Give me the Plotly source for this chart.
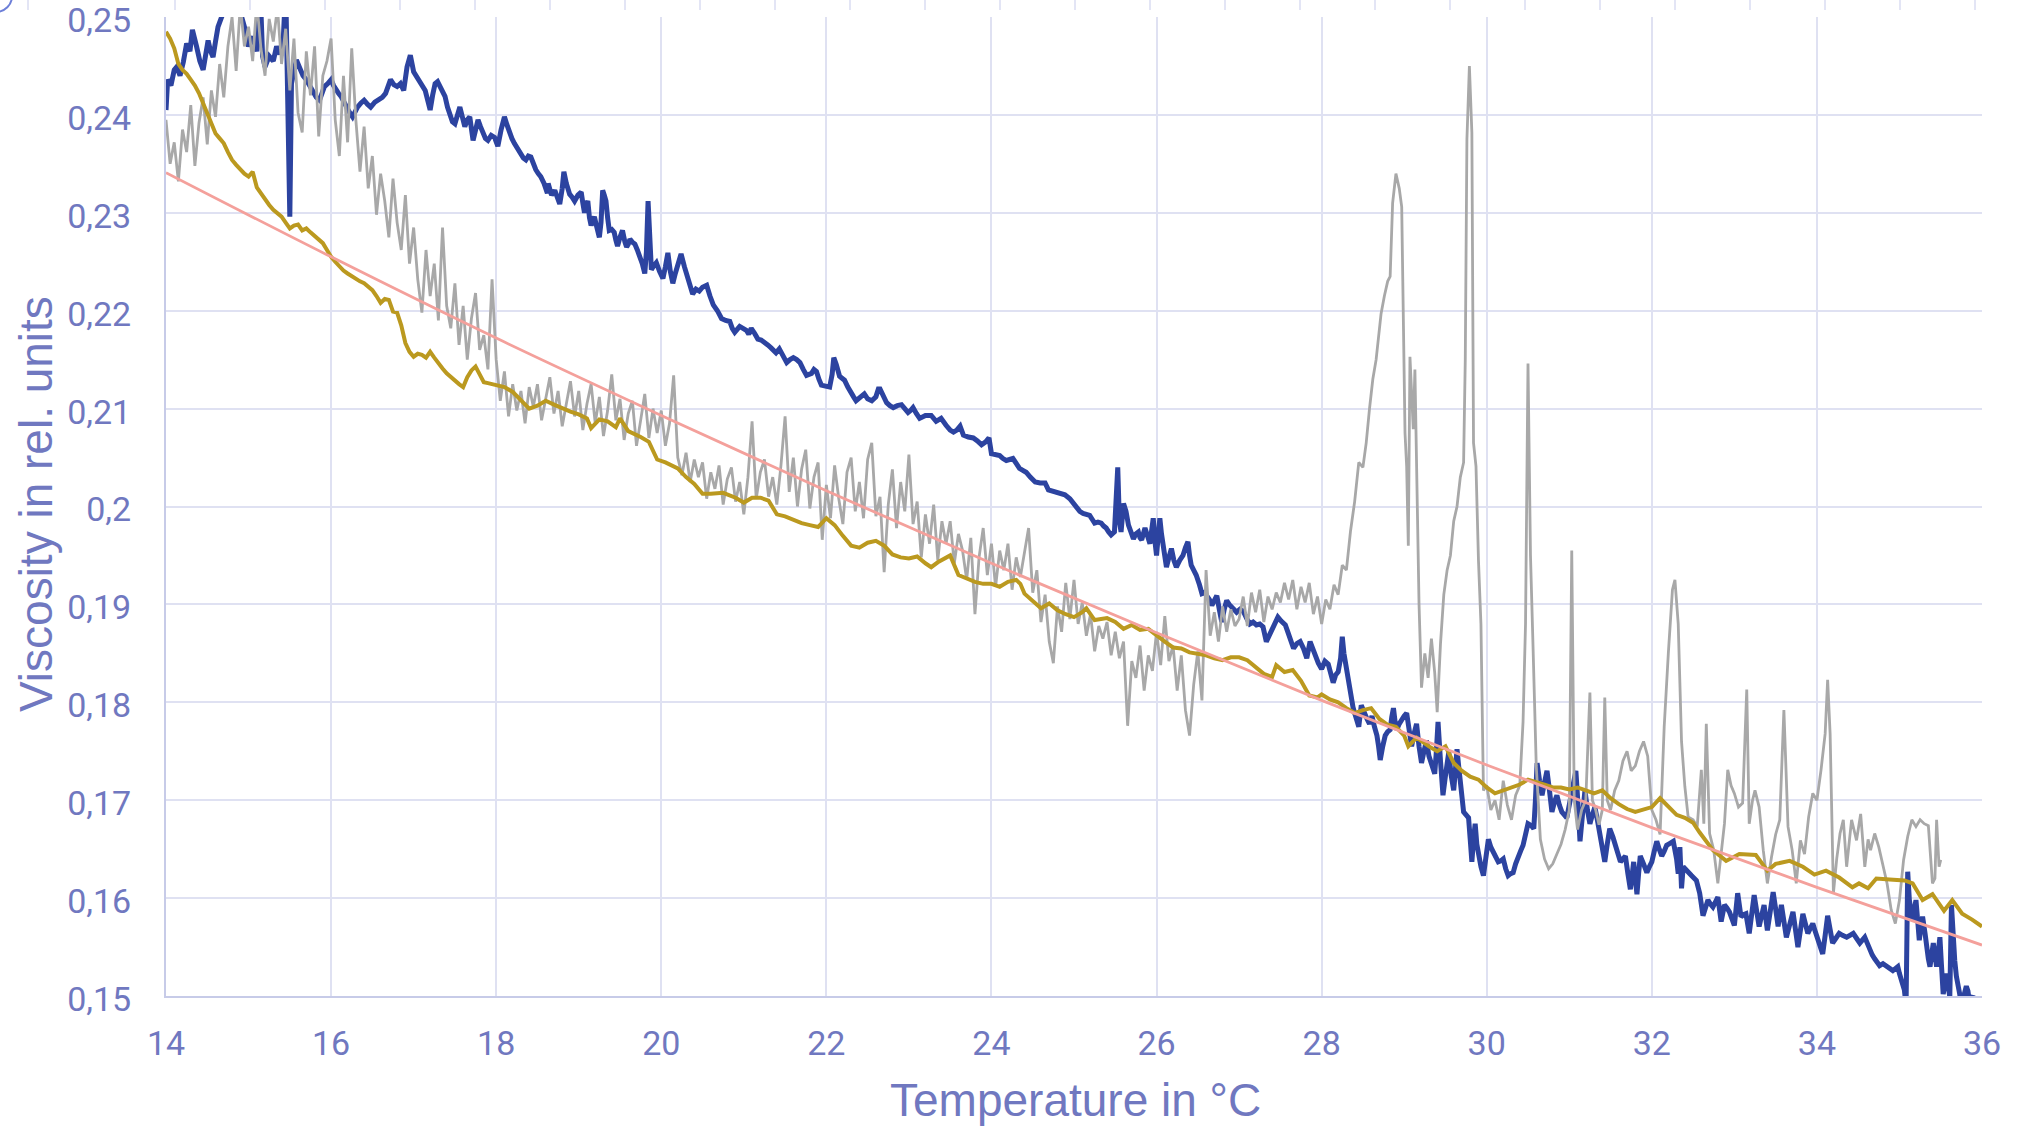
import plotly.graph_objects as go

# ---------------- data ----------------
x_ticks = [14, 16, 18, 20, 22, 24, 26, 28, 30, 32, 34, 36]
y_tickvals = [0.15, 0.16, 0.17, 0.18, 0.19, 0.20, 0.21, 0.22, 0.23, 0.24, 0.25]
y_ticktext = ["0,15", "0,16", "0,17", "0,18", "0,19", "0,2", "0,21", "0,22", "0,23", "0,24", "0,25"]

# trend line (pink), values read at each x tick
trend_temp = [14, 16, 18, 20, 22, 24, 26, 28, 30, 32, 34, 36]
trend_visc = [0.2341, 0.2255, 0.2172, 0.2093, 0.2016, 0.1942, 0.1871, 0.1802, 0.1736, 0.1672, 0.1611, 0.1552]

# gray series, part A: one reading every 0.05 degC from 14.00 to 27.95
gray_a_visc = [
    0.2395, 0.2350, 0.2372, 0.2332, 0.2385, 0.2362, 0.2410, 0.2348, 0.2392, 0.2418,
    0.2370, 0.2425, 0.2398, 0.2452, 0.2418, 0.2470, 0.2500, 0.2445, 0.2512, 0.2470,
    0.2490, 0.2455, 0.2515, 0.2468, 0.2440, 0.2498, 0.2475, 0.2510, 0.2452, 0.2488,
    0.2425, 0.2478, 0.2402, 0.2382, 0.2465, 0.2420, 0.2470, 0.2378, 0.2440, 0.2455,
    0.2478, 0.2395, 0.2358, 0.2440, 0.2372, 0.2468, 0.2395, 0.2342, 0.2388, 0.2325,
    0.2358, 0.2298, 0.2340, 0.2312, 0.2275, 0.2335, 0.2290, 0.2262, 0.2318, 0.2248,
    0.2285, 0.2232, 0.2198, 0.2262, 0.2215, 0.2248, 0.2190, 0.2285, 0.2205, 0.2182,
    0.2228, 0.2165, 0.2205, 0.2150, 0.2192, 0.2218, 0.2160, 0.2175, 0.2140, 0.2232,
    0.2150, 0.2108, 0.2138, 0.2092, 0.2125, 0.2098, 0.2118, 0.2085, 0.2122, 0.2102,
    0.2125, 0.2088, 0.2110, 0.2132, 0.2095, 0.2118, 0.2082, 0.2105, 0.2128, 0.2092,
    0.2118, 0.2078, 0.2105, 0.2125, 0.2085, 0.2112, 0.2072, 0.2098, 0.2135, 0.2088,
    0.2110, 0.2068, 0.2095, 0.2108, 0.2062, 0.2088, 0.2115, 0.2070, 0.2100, 0.2075,
    0.2098, 0.2062, 0.2085, 0.2134, 0.2050, 0.2032, 0.2055, 0.2025, 0.2048, 0.2030,
    0.2045, 0.2008, 0.2035, 0.2018, 0.2042, 0.2002, 0.2028, 0.2040, 0.2005, 0.2025,
    0.1992, 0.2030, 0.2087, 0.2008, 0.2035, 0.2048, 0.2010, 0.2030, 0.2002, 0.2042,
    0.2092, 0.2015, 0.2050, 0.2000, 0.2038, 0.2058, 0.1998, 0.2030, 0.2045, 0.1966,
    0.2022, 0.1988, 0.2042, 0.2008, 0.1982, 0.2035, 0.2050, 0.1995, 0.2025, 0.1988,
    0.2048, 0.2065, 0.1990, 0.2010, 0.1933, 0.2002, 0.2038, 0.1978, 0.2025, 0.1995,
    0.2053, 0.1982, 0.2005, 0.1948, 0.1992, 0.1962, 0.2002, 0.1945, 0.1985, 0.1962,
    0.1985, 0.1942, 0.1972, 0.1955, 0.1925, 0.1968, 0.1890, 0.1948, 0.1978, 0.1930,
    0.1962, 0.1918, 0.1955, 0.1935, 0.1962, 0.1915, 0.1948, 0.1928, 0.1952, 0.1978,
    0.1912, 0.1935, 0.1882, 0.1910, 0.1862, 0.1840, 0.1898, 0.1872, 0.1922, 0.1885,
    0.1925, 0.1880, 0.1902, 0.1868, 0.1890, 0.1852, 0.1878, 0.1865, 0.1882, 0.1848,
    0.1872, 0.1845, 0.1862, 0.1776, 0.1842, 0.1825, 0.1858, 0.1812, 0.1848, 0.1832,
    0.1872, 0.1838, 0.1888, 0.1842, 0.1858, 0.1812, 0.1848, 0.1792, 0.1766, 0.1818,
    0.1852, 0.1802, 0.1935, 0.1868, 0.1892, 0.1862, 0.1898, 0.1872, 0.1895, 0.1878,
    0.1885, 0.1908, 0.1878, 0.1912, 0.1892, 0.1915, 0.1882, 0.1908, 0.1895, 0.1912,
    0.1902, 0.1922, 0.1905, 0.1925, 0.1895, 0.1918, 0.1902, 0.1922, 0.1890, 0.1908,
]

# gray series, part B: irregular readings 28.0 .. 35.5
gray_b_temp = [
    28.00, 28.05, 28.10, 28.15, 28.20, 28.25, 28.30, 28.35, 28.40, 28.45, 28.50, 28.54, 28.58, 28.62, 28.66,
    28.72, 28.76, 28.80, 28.83, 28.86, 28.90, 28.94, 28.97, 28.99, 29.01, 29.03, 29.05, 29.07, 29.09, 29.11,
    29.13, 29.15, 29.18, 29.21, 29.25, 29.29, 29.33, 29.37, 29.40, 29.44, 29.48, 29.52, 29.56, 29.60, 29.64,
    29.68, 29.72, 29.74, 29.76, 29.79, 29.82, 29.84, 29.87, 29.90, 29.93, 29.96, 30.00, 30.05, 30.10, 30.15,
    30.20, 30.25, 30.30, 30.35, 30.40, 30.44, 30.47, 30.50, 30.53, 30.56, 30.60, 30.65, 30.70, 30.75, 30.80,
    30.85, 30.90, 30.95, 31.00, 31.03, 31.06, 31.10, 31.15, 31.20, 31.25, 31.28, 31.32, 31.36, 31.40, 31.43,
    31.46, 31.50, 31.55, 31.60, 31.65, 31.70, 31.75, 31.80, 31.85, 31.90, 31.95, 32.00, 32.05, 32.10, 32.15,
    32.20, 32.25, 32.28, 32.32, 32.36, 32.40, 32.44, 32.50, 32.55, 32.60, 32.63, 32.66, 32.70, 32.75, 32.80,
    32.85, 32.88, 32.92, 32.96, 33.00, 33.05, 33.10, 33.15, 33.18, 33.22, 33.25, 33.30, 33.35, 33.40, 33.45,
    33.50, 33.55, 33.60, 33.65, 33.70, 33.75, 33.80, 33.85, 33.90, 33.95, 34.00, 34.05, 34.10, 34.13, 34.16,
    34.20, 34.24, 34.28, 34.32, 34.36, 34.42, 34.48, 34.53, 34.58, 34.62, 34.65, 34.70, 34.75, 34.80, 34.85,
    34.90, 34.95, 35.00, 35.05, 35.10, 35.15, 35.20, 35.25, 35.30, 35.35, 35.40, 35.43, 35.45, 35.48, 35.50,
]
gray_b_visc = [
    0.1880, 0.1905, 0.1895, 0.1920, 0.1910, 0.1940, 0.1935, 0.1975, 0.2005, 0.2045, 0.2040, 0.2065, 0.2100, 0.2130, 0.2150,
    0.2197, 0.2215, 0.2230, 0.2235, 0.2310, 0.2340, 0.2325, 0.2306, 0.2211, 0.2075, 0.2041, 0.1960, 0.2153, 0.2120, 0.2079,
    0.2140, 0.2038, 0.1900, 0.1815, 0.1850, 0.1825, 0.1865, 0.1830, 0.1790, 0.1860, 0.1910, 0.1935, 0.1950, 0.1985, 0.2000,
    0.2030, 0.2045, 0.2150, 0.2375, 0.2450, 0.2382, 0.2065, 0.2041, 0.1945, 0.1880, 0.1710, 0.1715, 0.1690, 0.1700, 0.1680,
    0.1720, 0.1695, 0.1680, 0.1705, 0.1715, 0.1780, 0.1880, 0.2146, 0.1950, 0.1860, 0.1735, 0.1660, 0.1640, 0.1630, 0.1635,
    0.1645, 0.1655, 0.1670, 0.1690, 0.1955, 0.1700, 0.1670, 0.1690, 0.1700, 0.1810, 0.1700, 0.1690, 0.1675, 0.1690, 0.1805,
    0.1700, 0.1690, 0.1710, 0.1720, 0.1740, 0.1750, 0.1730, 0.1735, 0.1750, 0.1760, 0.1745, 0.1690, 0.1680, 0.1665, 0.1775,
    0.1850, 0.1915, 0.1925, 0.1880, 0.1760, 0.1714, 0.1683, 0.1680, 0.1673, 0.1731, 0.1676, 0.1778, 0.1666, 0.1649, 0.1615,
    0.1650, 0.1676, 0.1731, 0.1715, 0.1707, 0.1693, 0.1697, 0.1813, 0.1676, 0.1700, 0.1710, 0.1693, 0.1649, 0.1615, 0.1642,
    0.1665, 0.1680, 0.1792, 0.1673, 0.1649, 0.1615, 0.1659, 0.1645, 0.1683, 0.1707, 0.1700, 0.1731, 0.1768, 0.1823, 0.1768,
    0.1605, 0.1640, 0.1666, 0.1680, 0.1632, 0.1680, 0.1659, 0.1686, 0.1632, 0.1660, 0.1649, 0.1666, 0.1652, 0.1635, 0.1615,
    0.1588, 0.1574, 0.1598, 0.1639, 0.1663, 0.1680, 0.1673, 0.1680, 0.1676, 0.1674, 0.1615, 0.1620, 0.1680, 0.1632, 0.1639,
]

# blue series
blue_temp = [
    14.00, 14.02, 14.06, 14.10, 14.13, 14.17, 14.21, 14.25, 14.29, 14.32, 14.37, 14.41, 14.45, 14.48, 14.51,
    14.54, 14.57, 14.60, 14.63, 14.67, 14.72, 14.80, 14.90, 14.95, 15.00, 15.05, 15.10, 15.14, 15.17, 15.20,
    15.25, 15.30, 15.34, 15.38, 15.42, 15.45, 15.48, 15.50, 15.52, 15.55, 15.58, 15.62, 15.66, 15.70, 15.74,
    15.78, 15.82, 15.86, 15.90, 15.92, 15.96, 16.00, 16.03, 16.06, 16.09, 16.12, 16.15, 16.18, 16.22, 16.26,
    16.29, 16.32, 16.36, 16.40, 16.44, 16.48, 16.53, 16.58, 16.62, 16.66, 16.69, 16.72, 16.76, 16.80, 16.84,
    16.88, 16.92, 16.96, 17.00, 17.03, 17.06, 17.10, 17.14, 17.17, 17.20, 17.23, 17.26, 17.29, 17.32, 17.35,
    17.38, 17.41, 17.44, 17.47, 17.50, 17.53, 17.56, 17.59, 17.62, 17.65, 17.68, 17.72, 17.75, 17.78, 17.81,
    17.84, 17.87, 17.90, 17.94, 17.98, 18.02, 18.06, 18.10, 18.13, 18.16, 18.19, 18.22, 18.26, 18.30, 18.33,
    18.36, 18.39, 18.42, 18.45, 18.48, 18.51, 18.54, 18.58, 18.62, 18.63, 18.67, 18.71, 18.74, 18.77, 18.80,
    18.82, 18.85, 18.89, 18.92, 18.95, 18.99, 19.03, 19.05, 19.07, 19.09, 19.11, 19.13, 19.15, 19.17, 19.19,
    19.22, 19.25, 19.27, 19.29, 19.31, 19.33, 19.35, 19.37, 19.40, 19.43, 19.45, 19.47, 19.50, 19.53, 19.56,
    19.58, 19.60, 19.62, 19.65, 19.68, 19.71, 19.74, 19.77, 19.80, 19.82, 19.84, 19.86, 19.88, 19.91, 19.94,
    19.98, 20.02, 20.05, 20.08, 20.11, 20.14, 20.17, 20.21, 20.24, 20.28, 20.32, 20.35, 20.38, 20.42, 20.46,
    20.50, 20.55, 20.59, 20.63, 20.68, 20.73, 20.78, 20.83, 20.86, 20.89, 20.92, 20.95, 20.99, 21.03, 21.06,
    21.09, 21.13, 21.17, 21.21, 21.25, 21.29, 21.33, 21.36, 21.39, 21.43, 21.47, 21.52, 21.56, 21.60, 21.64,
    21.68, 21.72, 21.76, 21.79, 21.82, 21.85, 21.88, 21.91, 21.94, 21.99, 22.04, 22.07, 22.09, 22.12, 22.16,
    22.19, 22.22, 22.26, 22.30, 22.33, 22.36, 22.41, 22.46, 22.50, 22.55, 22.60, 22.63, 22.65, 22.69, 22.73,
    22.77, 22.81, 22.86, 22.91, 22.95, 22.99, 23.02, 23.05, 23.09, 23.13, 23.20, 23.27, 23.33, 23.39, 23.45,
    23.50, 23.54, 23.58, 23.62, 23.66, 23.72, 23.78, 23.83, 23.88, 23.93, 23.97, 24.00, 24.05, 24.10, 24.14,
    24.18, 24.22, 24.26, 24.30, 24.34, 24.38, 24.42, 24.47, 24.53, 24.59, 24.65, 24.69, 24.74, 24.79, 24.84,
    24.89, 24.95, 24.99, 25.03, 25.07, 25.11, 25.15, 25.19, 25.22, 25.25, 25.29, 25.33, 25.36, 25.39, 25.42,
    25.45, 25.49, 25.51, 25.53, 25.55, 25.57, 25.60, 25.63, 25.66, 25.69, 25.72, 25.75, 25.78, 25.80, 25.82,
    25.84, 25.86, 25.89, 25.92, 25.94, 25.96, 25.98, 26.00, 26.02, 26.04, 26.06, 26.08, 26.10, 26.12, 26.15,
    26.18, 26.21, 26.24, 26.28, 26.32, 26.35, 26.38, 26.40, 26.42, 26.45, 26.48, 26.52, 26.55, 26.58, 26.61,
    26.64, 26.67, 26.70, 26.73, 26.76, 26.79, 26.82, 26.85, 26.88, 26.91, 26.94, 26.97, 27.01, 27.05, 27.09,
    27.13, 27.17, 27.21, 27.25, 27.29, 27.33, 27.37, 27.41, 27.44, 27.47, 27.51, 27.56, 27.59, 27.62, 27.66,
    27.70, 27.74, 27.78, 27.82, 27.86, 27.89, 27.92, 27.96, 28.00, 28.04, 28.08, 28.11, 28.14, 28.17, 28.20,
    28.23, 28.25, 28.27, 28.30, 28.33, 28.36, 28.38, 28.40, 28.43, 28.45, 28.48, 28.51, 28.55, 28.58, 28.61,
    28.64, 28.67, 28.69, 28.71, 28.74, 28.77, 28.80, 28.83, 28.85, 28.87, 28.89, 28.91, 28.94, 28.97, 29.00,
    29.03, 29.06, 29.09, 29.12, 29.15, 29.18, 29.21, 29.24, 29.27, 29.30, 29.33, 29.35, 29.37, 29.39, 29.41,
    29.44, 29.47, 29.50, 29.54, 29.57, 29.60, 29.62, 29.64, 29.66, 29.68, 29.70, 29.72, 29.75, 29.78, 29.80,
    29.82, 29.84, 29.86, 29.88, 29.90, 29.93, 29.96, 29.99, 30.02, 30.05, 30.08, 30.11, 30.14, 30.17, 30.20,
    30.23, 30.26, 30.29, 30.32, 30.35, 30.38, 30.41, 30.44, 30.47, 30.50, 30.54, 30.57, 30.59, 30.61, 30.64,
    30.67, 30.70, 30.73, 30.76, 30.79, 30.82, 30.85, 30.88, 30.91, 30.94, 30.97, 31.00, 31.03, 31.06, 31.08,
    31.11, 31.13, 31.16, 31.19, 31.22, 31.25, 31.28, 31.31, 31.34, 31.37, 31.40, 31.43, 31.46, 31.49, 31.53,
    31.56, 31.59, 31.62, 31.65, 31.68, 31.71, 31.74, 31.76, 31.78, 31.80, 31.82, 31.84, 31.86, 31.90, 31.94,
    31.97, 32.00, 32.03, 32.06, 32.09, 32.12, 32.15, 32.18, 32.22, 32.26, 32.30, 32.32, 32.34, 32.36, 32.38,
    32.42, 32.48, 32.54, 32.58, 32.62, 32.65, 32.68, 32.71, 32.74, 32.77, 32.80, 32.84, 32.88, 32.91, 32.94,
    32.97, 33.00, 33.04, 33.08, 33.11, 33.14, 33.18, 33.21, 33.24, 33.27, 33.30, 33.33, 33.36, 33.40, 33.43,
    33.47, 33.50, 33.53, 33.57, 33.60, 33.63, 33.67, 33.71, 33.74, 33.77, 33.80, 33.83, 33.86, 33.89, 33.92,
    33.95, 33.98, 34.01, 34.04, 34.07, 34.10, 34.13, 34.16, 34.19, 34.23, 34.27, 34.31, 34.36, 34.40, 34.44,
    34.48, 34.52, 34.55, 34.58, 34.61, 34.64, 34.67, 34.70, 34.73, 34.76, 34.80, 34.83, 34.86, 34.89, 34.92,
    34.95, 34.98, 35.00, 35.02, 35.04, 35.06, 35.08, 35.10, 35.12, 35.14, 35.16, 35.18, 35.20, 35.22, 35.24,
    35.26, 35.28, 35.31, 35.33, 35.35, 35.37, 35.39, 35.41, 35.43, 35.45, 35.47, 35.49, 35.51, 35.53, 35.55,
    35.57, 35.59, 35.61, 35.63, 35.65, 35.67, 35.69, 35.71, 35.73, 35.75, 35.78, 35.81, 35.83, 35.85, 35.87,
    35.89, 35.91,
]
blue_visc = [
    0.2405, 0.2436, 0.2430, 0.2446, 0.2449, 0.2440, 0.2454, 0.2473, 0.2465, 0.2487, 0.2470, 0.2455, 0.2446, 0.2460, 0.2476,
    0.2465, 0.2459, 0.2475, 0.2490, 0.2499, 0.2510, 0.2520, 0.2505, 0.2490, 0.2470, 0.2480, 0.2465, 0.2530, 0.2460, 0.2449,
    0.2460, 0.2455, 0.2470, 0.2462, 0.2476, 0.2530, 0.2400, 0.2296, 0.2432, 0.2445, 0.2456, 0.2448, 0.2440, 0.2436, 0.2430,
    0.2422, 0.2418, 0.2415, 0.2425, 0.2429, 0.2432, 0.2436, 0.2430, 0.2425, 0.2422, 0.2419, 0.2414, 0.2408, 0.2403, 0.2398,
    0.2404, 0.2408, 0.2412, 0.2415, 0.2411, 0.2408, 0.2413, 0.2415, 0.2418, 0.2422, 0.2428, 0.2436, 0.2431, 0.2429, 0.2432,
    0.2425, 0.2449, 0.2461, 0.2444, 0.2440, 0.2436, 0.2432, 0.2425, 0.2415, 0.2405, 0.2420, 0.2432, 0.2434, 0.2429, 0.2425,
    0.2419, 0.2408, 0.2398, 0.2393, 0.2391, 0.2402, 0.2408, 0.2398, 0.2388, 0.2395, 0.2398, 0.2374, 0.2385, 0.2395, 0.2388,
    0.2381, 0.2376, 0.2374, 0.2379, 0.2377, 0.2368, 0.2385, 0.2398, 0.2390, 0.2381, 0.2376, 0.2371, 0.2365, 0.2361, 0.2356,
    0.2354, 0.2358, 0.2357, 0.2350, 0.2344, 0.2340, 0.2337, 0.2330, 0.2320, 0.2330, 0.2318, 0.2323, 0.2316, 0.2309, 0.2325,
    0.2342, 0.2330, 0.2319, 0.2316, 0.2312, 0.2318, 0.2321, 0.2310, 0.2300, 0.2308, 0.2312, 0.2295, 0.2287, 0.2292, 0.2296,
    0.2285, 0.2275, 0.2290, 0.2323, 0.2318, 0.2312, 0.2295, 0.2282, 0.2283, 0.2280, 0.2272, 0.2266, 0.2275, 0.2282, 0.2270,
    0.2265, 0.2268, 0.2273, 0.2270, 0.2268, 0.2262, 0.2256, 0.2248, 0.2238, 0.2260, 0.2312, 0.2260, 0.2242, 0.2246, 0.2249,
    0.2240, 0.2233, 0.2245, 0.2259, 0.2240, 0.2228, 0.2238, 0.2250, 0.2258, 0.2245, 0.2233, 0.2225, 0.2217, 0.2222, 0.2220,
    0.2224, 0.2226, 0.2215, 0.2206, 0.2200, 0.2192, 0.2190, 0.2189, 0.2182, 0.2178, 0.2181, 0.2184, 0.2182, 0.2180, 0.2176,
    0.2182, 0.2177, 0.2171, 0.2170, 0.2168, 0.2165, 0.2162, 0.2159, 0.2157, 0.2161, 0.2155, 0.2147, 0.2150, 0.2152, 0.2150,
    0.2147, 0.2140, 0.2134, 0.2135, 0.2136, 0.2140, 0.2138, 0.2130, 0.2124, 0.2123, 0.2122, 0.2135, 0.2152, 0.2145, 0.2133,
    0.2131, 0.2129, 0.2122, 0.2115, 0.2112, 0.2108, 0.2112, 0.2115, 0.2110, 0.2108, 0.2112, 0.2120, 0.2120, 0.2112, 0.2106,
    0.2103, 0.2101, 0.2103, 0.2104, 0.2100, 0.2096, 0.2098, 0.2101, 0.2095, 0.2090, 0.2093, 0.2093, 0.2087, 0.2090, 0.2083,
    0.2078, 0.2076, 0.2078, 0.2082, 0.2073, 0.2071, 0.2070, 0.2067, 0.2063, 0.2066, 0.2070, 0.2054, 0.2053, 0.2052, 0.2049,
    0.2047, 0.2048, 0.2049, 0.2044, 0.2039, 0.2037, 0.2035, 0.2030, 0.2025, 0.2024, 0.2024, 0.2017, 0.2016, 0.2015, 0.2014,
    0.2012, 0.2008, 0.2003, 0.1998, 0.1995, 0.1993, 0.1992, 0.1991, 0.1987, 0.1983, 0.1984, 0.1983, 0.1980, 0.1978, 0.1974,
    0.1971, 0.1974, 0.2000, 0.2040, 0.1985, 0.1974, 0.2003, 0.1995, 0.1981, 0.1975, 0.1967, 0.1972, 0.1974, 0.1968, 0.1966,
    0.1972, 0.1978, 0.1970, 0.1962, 0.1975, 0.1988, 0.1965, 0.1950, 0.1970, 0.1988, 0.1972, 0.1961, 0.1950, 0.1938, 0.1948,
    0.1957, 0.1945, 0.1938, 0.1945, 0.1950, 0.1958, 0.1964, 0.1950, 0.1940, 0.1935, 0.1930, 0.1920, 0.1911, 0.1912, 0.1909,
    0.1905, 0.1899, 0.1903, 0.1909, 0.1895, 0.1882, 0.1895, 0.1904, 0.1900, 0.1897, 0.1894, 0.1892, 0.1895, 0.1893, 0.1886,
    0.1880, 0.1882, 0.1879, 0.1880, 0.1877, 0.1862, 0.1870, 0.1875, 0.1882, 0.1887, 0.1883, 0.1879, 0.1872, 0.1865, 0.1855,
    0.1860, 0.1862, 0.1855, 0.1845, 0.1862, 0.1855, 0.1850, 0.1840, 0.1834, 0.1842, 0.1839, 0.1830, 0.1820, 0.1828, 0.1831,
    0.1845, 0.1867, 0.1850, 0.1834, 0.1820, 0.1808, 0.1795, 0.1789, 0.1780, 0.1775, 0.1797, 0.1790, 0.1783, 0.1778, 0.1786,
    0.1775, 0.1766, 0.1755, 0.1741, 0.1755, 0.1766, 0.1770, 0.1772, 0.1785, 0.1794, 0.1780, 0.1772, 0.1778, 0.1783, 0.1786,
    0.1789, 0.1770, 0.1755, 0.1768, 0.1778, 0.1755, 0.1738, 0.1750, 0.1761, 0.1745, 0.1738, 0.1730, 0.1727, 0.1750, 0.1780,
    0.1740, 0.1705, 0.1725, 0.1749, 0.1725, 0.1710, 0.1730, 0.1752, 0.1735, 0.1721, 0.1700, 0.1688, 0.1685, 0.1682, 0.1660,
    0.1637, 0.1660, 0.1676, 0.1655, 0.1643, 0.1632, 0.1623, 0.1640, 0.1660, 0.1652, 0.1646, 0.1640, 0.1637, 0.1638, 0.1640,
    0.1630, 0.1623, 0.1625, 0.1626, 0.1635, 0.1643, 0.1648, 0.1654, 0.1665, 0.1676, 0.1674, 0.1671, 0.1700, 0.1738, 0.1720,
    0.1705, 0.1718, 0.1730, 0.1710, 0.1688, 0.1698, 0.1705, 0.1695, 0.1688, 0.1685, 0.1682, 0.1695, 0.1710, 0.1722, 0.1730,
    0.1690, 0.1658, 0.1685, 0.1710, 0.1690, 0.1676, 0.1685, 0.1693, 0.1680, 0.1665, 0.1650, 0.1637, 0.1655, 0.1671, 0.1662,
    0.1654, 0.1645, 0.1637, 0.1640, 0.1643, 0.1625, 0.1609, 0.1622, 0.1637, 0.1620, 0.1604, 0.1625, 0.1643, 0.1635, 0.1626,
    0.1632, 0.1637, 0.1648, 0.1658, 0.1650, 0.1643, 0.1648, 0.1654, 0.1656, 0.1658, 0.1640, 0.1625, 0.1652, 0.1610, 0.1632,
    0.1628, 0.1623, 0.1618, 0.1605, 0.1582, 0.1590, 0.1598, 0.1594, 0.1591, 0.1596, 0.1601, 0.1576, 0.1593, 0.1590, 0.1586,
    0.1579, 0.1572, 0.1605, 0.1581, 0.1583, 0.1584, 0.1564, 0.1585, 0.1603, 0.1587, 0.1571, 0.1582, 0.1593, 0.1567, 0.1587,
    0.1606, 0.1589, 0.1571, 0.1593, 0.1577, 0.1560, 0.1573, 0.1586, 0.1568, 0.1550, 0.1567, 0.1584, 0.1574, 0.1564, 0.1569,
    0.1574, 0.1566, 0.1557, 0.1550, 0.1543, 0.1562, 0.1582, 0.1568, 0.1554, 0.1559, 0.1564, 0.1562, 0.1560, 0.1562, 0.1564,
    0.1559, 0.1554, 0.1557, 0.1560, 0.1554, 0.1547, 0.1542, 0.1538, 0.1535, 0.1531, 0.1533, 0.1531, 0.1530, 0.1528, 0.1526,
    0.1528, 0.1530, 0.1523, 0.1516, 0.1511, 0.1506, 0.1490, 0.1627, 0.1598, 0.1588, 0.1577, 0.1588, 0.1598, 0.1578, 0.1557,
    0.1570, 0.1581, 0.1564, 0.1547, 0.1538, 0.1530, 0.1542, 0.1554, 0.1542, 0.1530, 0.1545, 0.1560, 0.1530, 0.1502, 0.1512,
    0.1523, 0.1510, 0.1499, 0.1593, 0.1560, 0.1536, 0.1520, 0.1506, 0.1502, 0.1490, 0.1500, 0.1510, 0.1505, 0.1492, 0.1498,
    0.1500, 0.1490,
]

# gold (smoothed) series
gold_temp = [
    14.00, 14.05, 14.10, 14.15, 14.20, 14.25, 14.30, 14.35, 14.40, 14.45, 14.50, 14.55, 14.60, 14.65, 14.70,
    14.75, 14.80, 14.85, 14.90, 14.95, 15.00, 15.05, 15.10, 15.15, 15.20, 15.25, 15.30, 15.35, 15.40, 15.45,
    15.50, 15.55, 15.60, 15.65, 15.70, 15.75, 15.80, 15.85, 15.90, 15.95, 16.00, 16.05, 16.10, 16.15, 16.20,
    16.25, 16.30, 16.35, 16.40, 16.45, 16.50, 16.55, 16.60, 16.65, 16.70, 16.75, 16.80, 16.85, 16.90, 16.95,
    17.00, 17.05, 17.10, 17.15, 17.20, 17.25, 17.30, 17.35, 17.40, 17.45, 17.50, 17.55, 17.60, 17.65, 17.70,
    17.75, 17.80, 17.85, 17.90, 17.95, 18.00, 18.10, 18.20, 18.30, 18.40, 18.50, 18.60, 18.70, 18.80, 18.90,
    19.00, 19.10, 19.15, 19.25, 19.35, 19.45, 19.50, 19.60, 19.75, 19.85, 19.95, 20.05, 20.20, 20.30, 20.40,
    20.50, 20.60, 20.75, 20.90, 21.00, 21.10, 21.20, 21.30, 21.40, 21.50, 21.60, 21.70, 21.80, 21.90, 22.00,
    22.10, 22.20, 22.30, 22.40, 22.50, 22.60, 22.70, 22.80, 22.90, 23.00, 23.10, 23.20, 23.27, 23.35, 23.45,
    23.50, 23.60, 23.70, 23.80, 23.90, 24.00, 24.10, 24.20, 24.30, 24.35, 24.40, 24.50, 24.60, 24.70, 24.80,
    24.90, 25.00, 25.10, 25.15, 25.25, 25.40, 25.50, 25.60, 25.70, 25.80, 25.90, 26.00, 26.10, 26.20, 26.30,
    26.40, 26.50, 26.60, 26.70, 26.80, 26.90, 27.00, 27.10, 27.20, 27.30, 27.40, 27.45, 27.55, 27.65, 27.75,
    27.85, 27.95, 28.00, 28.10, 28.20, 28.30, 28.40, 28.50, 28.60, 28.70, 28.80, 28.90, 29.00, 29.05, 29.15,
    29.30, 29.40, 29.50, 29.60, 29.70, 29.80, 29.90, 30.00, 30.10, 30.20, 30.30, 30.40, 30.50, 30.60, 30.70,
    30.80, 30.90, 31.00, 31.10, 31.20, 31.30, 31.40, 31.50, 31.60, 31.70, 31.80, 31.90, 32.00, 32.10, 32.20,
    32.30, 32.40, 32.50, 32.58, 32.74, 32.90, 33.06, 33.26, 33.40, 33.50, 33.67, 33.83, 33.97, 34.11, 34.27,
    34.43, 34.51, 34.62, 34.72, 34.88, 35.06, 35.16, 35.28, 35.40, 35.54, 35.64, 35.76, 35.88, 36.00,
]
gold_visc = [
    0.2485, 0.2478, 0.2468, 0.2452, 0.2446, 0.2442, 0.2436, 0.2430, 0.2422, 0.2412, 0.2402, 0.2392, 0.2381, 0.2376, 0.2371,
    0.2362, 0.2354, 0.2349, 0.2344, 0.2340, 0.2337, 0.2342, 0.2326, 0.2320, 0.2313, 0.2308, 0.2303, 0.2299, 0.2296, 0.2290,
    0.2284, 0.2287, 0.2288, 0.2282, 0.2284, 0.2280, 0.2276, 0.2272, 0.2269, 0.2262, 0.2255, 0.2250, 0.2245, 0.2241, 0.2238,
    0.2235, 0.2232, 0.2230, 0.2228, 0.2225, 0.2221, 0.2215, 0.2208, 0.2212, 0.2211, 0.2199, 0.2198, 0.2185, 0.2167, 0.2158,
    0.2153, 0.2156, 0.2155, 0.2152, 0.2158, 0.2152, 0.2146, 0.2141, 0.2136, 0.2132, 0.2129, 0.2125, 0.2122, 0.2132, 0.2139,
    0.2143, 0.2135, 0.2127, 0.2126, 0.2125, 0.2124, 0.2122, 0.2117, 0.2108, 0.2100, 0.2103, 0.2108, 0.2104, 0.2100, 0.2097,
    0.2094, 0.2090, 0.2080, 0.2089, 0.2087, 0.2081, 0.2090, 0.2077, 0.2071, 0.2066, 0.2048, 0.2045, 0.2039, 0.2030, 0.2023,
    0.2013, 0.2013, 0.2014, 0.2009, 0.2004, 0.2009, 0.2009, 0.2006, 0.1992, 0.1990, 0.1986, 0.1983, 0.1981, 0.1979, 0.1988,
    0.1981, 0.1970, 0.1960, 0.1958, 0.1963, 0.1965, 0.1960, 0.1951, 0.1948, 0.1947, 0.1949, 0.1942, 0.1938, 0.1943, 0.1947,
    0.1950, 0.1930, 0.1926, 0.1923, 0.1921, 0.1921, 0.1918, 0.1923, 0.1925, 0.1921, 0.1911, 0.1904, 0.1896, 0.1901, 0.1894,
    0.1890, 0.1887, 0.1892, 0.1896, 0.1884, 0.1886, 0.1882, 0.1875, 0.1879, 0.1874, 0.1875, 0.1868, 0.1862, 0.1856, 0.1855,
    0.1851, 0.1850, 0.1848, 0.1845, 0.1843, 0.1846, 0.1846, 0.1843, 0.1836, 0.1829, 0.1826, 0.1838, 0.1831, 0.1833, 0.1822,
    0.1807, 0.1805, 0.1808, 0.1803, 0.1800, 0.1794, 0.1789, 0.1792, 0.1794, 0.1783, 0.1777, 0.1775, 0.1766, 0.1755, 0.1764,
    0.1755, 0.1750, 0.1755, 0.1738, 0.1730, 0.1724, 0.1721, 0.1713, 0.1707, 0.1710, 0.1713, 0.1716, 0.1721, 0.1719, 0.1716,
    0.1713, 0.1713, 0.1711, 0.1713, 0.1710, 0.1707, 0.1710, 0.1702, 0.1696, 0.1691, 0.1688, 0.1691, 0.1693, 0.1702, 0.1693,
    0.1685, 0.1682, 0.1677, 0.1667, 0.1649, 0.1638, 0.1645, 0.1644, 0.1628, 0.1635, 0.1638, 0.1632, 0.1624, 0.1628, 0.1621,
    0.1611, 0.1615, 0.1610, 0.1620, 0.1619, 0.1618, 0.1615, 0.1598, 0.1604, 0.1587, 0.1598, 0.1584, 0.1578, 0.1571,
]

# ---------------- figure ----------------
gray_a_temp = [round(14 + 0.05 * i, 2) for i in range(len(gray_a_visc))]

TXT = "#7078c0"
GRID = "#dfe1f2"
AXIS = "#c7cbe8"
TITLE_FONT = "Liberation Sans, Arial, sans-serif"

fig = go.Figure()
fig.add_trace(go.Scatter(x=blue_temp, y=blue_visc, mode="lines",
                         line=dict(color="#2c43a0", width=5), name="blue"))
fig.add_trace(go.Scatter(x=gray_a_temp + gray_b_temp, y=gray_a_visc + gray_b_visc, mode="lines",
                         line=dict(color="#a8a8a8", width=2.8), name="gray"))
fig.add_trace(go.Scatter(x=gold_temp, y=gold_visc, mode="lines",
                         line=dict(color="#bb991f", width=4), name="gold"))
fig.add_trace(go.Scatter(x=trend_temp, y=trend_visc, mode="lines", line_shape="spline",
                         line=dict(color="#f4a09b", width=2.8), name="trend"))

# faint marks of the element cropped above the chart
shapes = []
mark_px = [28] + [175 + 75 * k for k in range(25)]
for px in mark_px:
    xp = (px - 166) / 1816
    shapes.append(dict(type="line", xref="paper", yref="paper", x0=xp, x1=xp,
                       y0=(996 - 10) / 979, y1=996 / 979, line=dict(color="#e3e5f5", width=2)))
shapes.append(dict(type="circle", xref="paper", yref="paper",
                   x0=(-20 - 166) / 1816, x1=(12 - 166) / 1816,
                   y0=(996 - 12) / 979, y1=(996 + 20) / 979,
                   line=dict(color="#6d7fd8", width=2)))

annotations = [
    dict(text="Temperature in °C", xref="paper", yref="paper",
         x=(1075 - 166) / 1816, y=(996 - 1100) / 979, xanchor="center", yanchor="middle",
         showarrow=False, font=dict(family=TITLE_FONT, size=46, color=TXT)),
    dict(text="Viscosity in rel. units", xref="paper", yref="paper",
         x=(36 - 166) / 1816, y=(996 - 504) / 979, xanchor="center", yanchor="middle",
         textangle=-90, showarrow=False, font=dict(family=TITLE_FONT, size=46, color=TXT)),
]

fig.update_layout(
    width=2026, height=1128,
    margin=dict(l=166, r=44, t=17, b=132, autoexpand=False),
    paper_bgcolor="white", plot_bgcolor="white",
    showlegend=False,
    separators=",.",
    shapes=shapes,
    annotations=annotations,
    font=dict(family="Roboto, Liberation Sans, sans-serif", color=TXT),
)
fig.update_xaxes(
    range=[14, 36], tickvals=x_ticks, ticktext=[str(v) for v in x_ticks],
    showgrid=True, gridcolor=GRID, gridwidth=2,
    showline=True, linecolor=AXIS, linewidth=2,
    ticks="outside", ticklen=16, tickcolor="rgba(0,0,0,0)",
    tickfont=dict(family="Roboto", size=34, color=TXT),
    ticklabeloverflow="allow",
    zeroline=False, automargin=False,
)
fig.update_yaxes(
    range=[0.15, 0.25], tickvals=y_tickvals, ticktext=y_ticktext,
    showgrid=True, gridcolor=GRID, gridwidth=2,
    showline=True, linecolor=AXIS, linewidth=2,
    ticks="outside", ticklen=26, tickcolor="rgba(0,0,0,0)",
    tickfont=dict(family="Roboto", size=34, color=TXT),
    ticklabeloverflow="allow", ticklabelshift=3,
    zeroline=False, automargin=False,
)

# remove the default page margin so the figure sits at the window's top-left corner
fig.write_html(
    "out.html",
    config={"displayModeBar": False},
    post_script="document.body.style.margin='0';document.body.style.overflow='hidden';",
)
